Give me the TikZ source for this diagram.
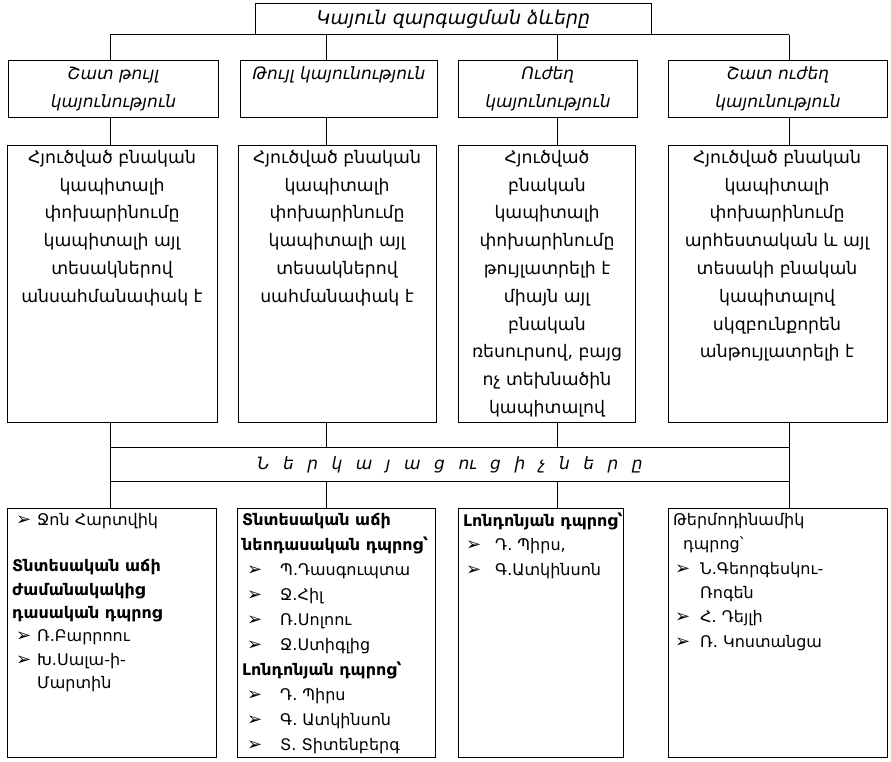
\documentclass[tikz,border=0pt]{standalone}
\usepackage{fontspec}
\setmainfont{DejaVu Sans}
\newcommand\lgap{\hspace{13.5pt}}
\newcommand\bul{{\fontsize{18}{18}\selectfont ➢}}
\begin{document}
\begin{tikzpicture}[x=1pt,y=-1pt,
  box/.style={draw, line width=0.9pt, inner sep=0pt, anchor=north west},
  link/.style={line width=0.9pt},
  titletext/.style={font=\itshape\fontsize{19}{24}\selectfont},
  headtext/.style={align=center, font=\itshape\fontsize{17}{28}\selectfont},
  bodytext/.style={anchor=north, align=center, inner sep=0pt, font=\fontsize{17.3}{27.8}\selectfont},
  listtext/.style={anchor=north west, align=left, inner sep=0pt, font=\fontsize{16}{23.3}\selectfont},
  bartext/.style={font=\itshape\fontsize{17}{20}\selectfont}
]
\useasboundingbox (0,0) rectangle (891,761);
\fill[white] (0,0) rectangle (891,761);
% connector columns
\coordinate (c1) at (110,0);
\coordinate (c2) at (326,0);
\coordinate (c3) at (557,0);
\coordinate (c4) at (789,0);
% title
\node[box, minimum width=396pt, minimum height=31pt, titletext] (title) at (255,3) {Կայուն զարգացման ձևերը};
% row 1
\node[box, minimum width=210pt, minimum height=57pt, headtext] (h1) at (8,60) {Շատ թույլ\\կայունություն};
\node[box, minimum width=197pt, minimum height=57pt, headtext] (h2) at (240,60) {Թույլ կայունություն\\\phantom{կ}};
\node[box, minimum width=179pt, minimum height=57pt, headtext] (h3) at (458,60) {Ուժեղ\\կայունություն};
\node[box, minimum width=219pt, minimum height=57pt, headtext] (h4) at (668,60) {Շատ ուժեղ\\կայունություն};
% row 2
\node[box, minimum width=210pt, minimum height=277pt] (b1) at (7,145) {};
\node[box, minimum width=198pt, minimum height=277pt] (b2) at (238,145) {};
\node[box, minimum width=177pt, minimum height=277pt] (b3) at (458,145) {};
\node[box, minimum width=219pt, minimum height=277pt] (b4) at (668,145) {};
\node[bodytext] (t1) at (112,150) {Հյուծված բնական\\կապիտալի\\փոխարինումը\\կապիտալի այլ\\տեսակներով\\անսահմանափակ է};
\node[bodytext] (t2) at (337,150) {Հյուծված բնական\\կապիտալի\\փոխարինումը\\կապիտալի այլ\\տեսակներով\\սահմանափակ է};
\node[bodytext] (t3) at (547,150) {Հյուծված\\բնական\\կապիտալի\\փոխարինումը\\թույլատրելի է\\միայն այլ\\բնական\\ռեսուրսով, բայց\\ոչ տեխնածին\\կապիտալով};
\node[bodytext] (t4) at (777,150) {Հյուծված բնական\\կապիտալի\\փոխարինումը\\արհեստական և այլ\\տեսակի բնական\\կապիտալով\\սկզբունքորեն\\անթույլատրելի է};
% bar
\node[box, minimum width=679pt, minimum height=34pt, bartext] (bar) at (110,447) {Ն\lgap ե\lgap ր\lgap կ\lgap ա\lgap յ\lgap ա\lgap ց\lgap ու\lgap ց\lgap ի\lgap չ\lgap ն\lgap ե\lgap ր\lgap ը};
% row 3
\node[box, minimum width=209pt, minimum height=249pt] (l1) at (7,508) {};
\node[box, minimum width=198pt, minimum height=249pt] (l2) at (237,508) {};
\node[box, minimum width=165pt, minimum height=249pt] (l3) at (458,508) {};
\node[box, minimum width=219pt, minimum height=249pt] (l4) at (668,508) {};
\node[listtext] (s1) at (16,513) {\makebox[21pt][l]{\bul}Ջոն Հարտվիկ\\[23.3pt]
\hspace*{-4pt}\textbf{Տնտեսական աճի}\\\hspace*{-4pt}\textbf{ժամանակակից}\\\hspace*{-4pt}\textbf{դասական դպրոց}\\
\makebox[21pt][l]{\bul}Ռ.Բարրոու\\\makebox[21pt][l]{\bul}Խ.Սալա-ի-\\\hspace*{21pt}Մարտին};
\node[listtext, font=\fontsize{16}{25}\selectfont] (s2) at (242,513) {\textbf{Տնտեսական աճի}\\\textbf{նեոդասական դպրոց՝}\\
\hspace*{5pt}\makebox[33pt][l]{\bul}Պ.Դասգուպտա\\\hspace*{5pt}\makebox[33pt][l]{\bul}Ջ.Հիլ\\
\hspace*{5pt}\makebox[33pt][l]{\bul}Ռ.Սոլոու\\\hspace*{5pt}\makebox[33pt][l]{\bul}Ջ.Ստիգլից\\
\textbf{Լոնդոնյան դպրոց՝}\\
\hspace*{5pt}\makebox[33pt][l]{\bul}Դ. Պիրս\\\hspace*{5pt}\makebox[33pt][l]{\bul}Գ. Ատկինսոն\\
\hspace*{5pt}\makebox[33pt][l]{\bul}Տ. Տիտենբերգ};
\node[listtext, font=\fontsize{16}{24.2}\selectfont] (s3) at (463,513) {\textbf{Լոնդոնյան դպրոց՝}\\
\hspace*{3pt}\makebox[29pt][l]{\bul}Դ. Պիրս,\\\hspace*{3pt}\makebox[29pt][l]{\bul}Գ.Ատկինսոն};
\node[listtext, font=\fontsize{16}{24.4}\selectfont] (s4) at (673,513) {Թերմոդինամիկ\\\hspace*{10pt}դպրոց՝\\
\hspace*{2pt}\makebox[25pt][l]{\bul}Ն.Գեորգեսկու-\\\hspace*{27pt}Ռոգեն\\
\hspace*{2pt}\makebox[25pt][l]{\bul}Հ. Դեյլի\\\hspace*{2pt}\makebox[25pt][l]{\bul}Ռ. Կոստանցա};
% connectors
\draw[link] (title.south -| c1) -- (title.south -| c4);
\draw[link] (title.south -| c1) -- (h1.north -| c1);
\draw[link] (title.south -| c2) -- (h2.north -| c2);
\draw[link] (title.south -| c3) -- (h3.north -| c3);
\draw[link] (title.south -| c4) -- (h4.north -| c4);
\draw[link] (h1.south -| c1) -- (b1.north -| c1);
\draw[link] (h2.south -| c2) -- (b2.north -| c2);
\draw[link] (h3.south -| c3) -- (b3.north -| c3);
\draw[link] (h4.south -| c4) -- (b4.north -| c4);
\draw[link] (b1.south -| c1) -- (bar.north -| c1);
\draw[link] (b2.south -| c2) -- (bar.north -| c2);
\draw[link] (b3.south -| c3) -- (bar.north -| c3);
\draw[link] (b4.south -| c4) -- (bar.north -| c4);
\draw[link] (bar.south -| c1) -- (l1.north -| c1);
\draw[link] (bar.south -| c2) -- (l2.north -| c2);
\draw[link] (bar.south -| c3) -- (l3.north -| c3);
\draw[link] (bar.south -| c4) -- (l4.north -| c4);
\end{tikzpicture}
\end{document}
